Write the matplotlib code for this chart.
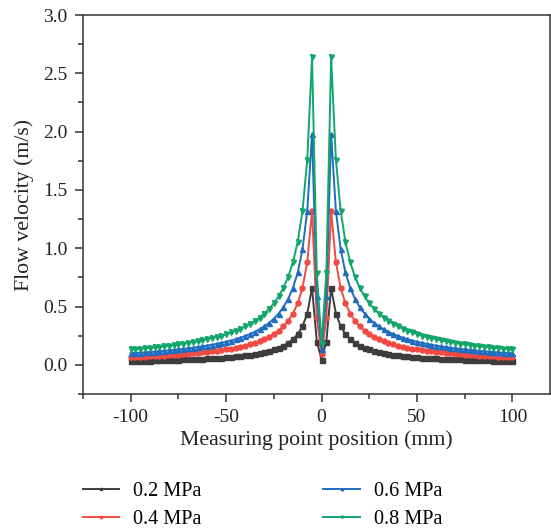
import matplotlib
matplotlib.use("Agg")
import matplotlib.pyplot as plt
from matplotlib.ticker import MultipleLocator

# Measuring point positions (mm)
position = [-100, -97.5, -95, -92.5, -90, -87.5, -85, -82.5, -80, -77.5, -75, -72.5, -70, -67.5,
            -65, -62.5, -60, -57.5, -55, -52.5, -50, -47.5, -45, -42.5, -40, -37.5, -35, -32.5,
            -30, -27.5, -25, -22.5, -20, -17.5, -15, -12.5, -10, -7.5, -5, -2.5, 0,
            2.5, 5, 7.5, 10, 12.5, 15, 17.5, 20, 22.5, 25, 27.5, 30, 32.5, 35, 37.5, 40,
            42.5, 45, 47.5, 50, 52.5, 55, 57.5, 60, 62.5, 65, 67.5, 70, 72.5, 75, 77.5, 80,
            82.5, 85, 87.5, 90, 92.5, 95, 97.5, 100]

v_02 = [0.033, 0.034, 0.035, 0.036, 0.037, 0.038, 0.039, 0.040, 0.041, 0.043, 0.044, 0.046, 0.047, 0.049,
        0.051, 0.053, 0.055, 0.057, 0.060, 0.063, 0.066, 0.069, 0.073, 0.078, 0.083, 0.088, 0.094, 0.102,
        0.110, 0.120, 0.132, 0.147, 0.165, 0.189, 0.220, 0.264, 0.330, 0.440, 0.660, 0.200, 0.045,
        0.200, 0.660, 0.440, 0.330, 0.264, 0.220, 0.189, 0.165, 0.147, 0.132, 0.120, 0.110, 0.102, 0.094, 0.088, 0.083,
        0.078, 0.073, 0.069, 0.066, 0.063, 0.060, 0.057, 0.055, 0.053, 0.051, 0.049, 0.047, 0.046, 0.044, 0.043, 0.041,
        0.040, 0.039, 0.038, 0.037, 0.036, 0.035, 0.034, 0.033]

v_04 = [0.066, 0.068, 0.069, 0.071, 0.073, 0.075, 0.078, 0.080, 0.083, 0.085, 0.088, 0.091, 0.094, 0.098,
        0.102, 0.106, 0.110, 0.115, 0.120, 0.126, 0.132, 0.139, 0.147, 0.155, 0.165, 0.176, 0.189, 0.203,
        0.220, 0.240, 0.264, 0.293, 0.330, 0.377, 0.440, 0.528, 0.660, 0.880, 1.320, 0.400, 0.090,
        0.400, 1.320, 0.880, 0.660, 0.528, 0.440, 0.377, 0.330, 0.293, 0.264, 0.240, 0.220, 0.203, 0.189, 0.176, 0.165,
        0.155, 0.147, 0.139, 0.132, 0.126, 0.120, 0.115, 0.110, 0.106, 0.102, 0.098, 0.094, 0.091, 0.088, 0.085, 0.083,
        0.080, 0.078, 0.075, 0.073, 0.071, 0.069, 0.068, 0.066]

v_06 = [0.099, 0.102, 0.104, 0.107, 0.110, 0.113, 0.116, 0.120, 0.124, 0.128, 0.132, 0.137, 0.141, 0.147,
        0.152, 0.158, 0.165, 0.172, 0.180, 0.189, 0.198, 0.208, 0.220, 0.233, 0.248, 0.264, 0.283, 0.305,
        0.330, 0.360, 0.396, 0.440, 0.495, 0.566, 0.660, 0.792, 0.990, 1.320, 1.980, 0.590, 0.135,
        0.590, 1.980, 1.320, 0.990, 0.792, 0.660, 0.566, 0.495, 0.440, 0.396, 0.360, 0.330, 0.305, 0.283, 0.264, 0.248,
        0.233, 0.220, 0.208, 0.198, 0.189, 0.180, 0.172, 0.165, 0.158, 0.152, 0.147, 0.141, 0.137, 0.132, 0.128, 0.124,
        0.120, 0.116, 0.113, 0.110, 0.107, 0.104, 0.102, 0.099]

v_08 = [0.132, 0.135, 0.139, 0.143, 0.147, 0.151, 0.155, 0.160, 0.165, 0.170, 0.176, 0.182, 0.189, 0.196,
        0.203, 0.211, 0.220, 0.230, 0.240, 0.251, 0.264, 0.278, 0.293, 0.311, 0.330, 0.352, 0.377, 0.406,
        0.440, 0.480, 0.528, 0.587, 0.660, 0.754, 0.880, 1.056, 1.320, 1.760, 2.640, 0.790, 0.180,
        0.790, 2.640, 1.760, 1.320, 1.056, 0.880, 0.754, 0.660, 0.587, 0.528, 0.480, 0.440, 0.406, 0.377, 0.352, 0.330,
        0.311, 0.293, 0.278, 0.264, 0.251, 0.240, 0.230, 0.220, 0.211, 0.203, 0.196, 0.189, 0.182, 0.176, 0.170, 0.165,
        0.160, 0.155, 0.151, 0.147, 0.143, 0.139, 0.135, 0.132]

labels = ["0.2 MPa", "0.4 MPa", "0.6 MPa", "0.8 MPa"]
series = [v_02, v_04, v_06, v_08]
colors = ["#3d3d3d", "#f04a42", "#1f6cc0", "#12a66a"]
markers = ["s", "o", "^", "v"]

plt.rcParams['font.family'] = ['Liberation Serif', 'DejaVu Serif']

fig = plt.figure(figsize=(5.51, 5.29), dpi=100)
ax = fig.add_axes([0.1506, 0.2552, 0.847, 0.7164])

for vals, lab, c, m in zip(series, labels, colors, markers):
    ax.plot(position, vals, color=c, marker=m, markersize=3.6, linewidth=1.4, label=lab)

ax.set_xlim(-125, 119.5)
ax.set_ylim(-0.25, 3.0)
ax.xaxis.set_minor_locator(MultipleLocator(25))
ax.yaxis.set_minor_locator(MultipleLocator(0.25))
ax.set_xticks([-100, -50, 0, 50, 100])
ax.set_xticklabels(["-100", "-50", "0", "50", "100"])
ax.set_yticks([0.0, 0.5, 1.0, 1.5, 2.0, 2.5, 3.0])
ax.set_yticklabels(["0.0", "0.5", "1.0", "1.5", "2.0", "2.5", "3.0"])

for s in ax.spines.values():
    s.set_color("#333333")
    s.set_linewidth(1.1)
ax.tick_params(which='both', direction='out', top=False, right=False, colors="#333333",
               labelcolor="#222222", width=1.1)
ax.tick_params(which='major', length=6, labelsize=14)
ax.tick_params(axis='x', which='major', pad=5)
ax.tick_params(axis='y', which='major', pad=5)
ax.tick_params(which='minor', length=3.5)

ax.set_xlabel("Measuring point position (mm)", fontsize=15.7, color="#222222", labelpad=3)
ax.set_ylabel("Flow velocity (m/s)", fontsize=15.7, color="#222222", labelpad=7)

handles, labs = ax.get_legend_handles_labels()
fig.legend(handles, labs, loc='upper left', bbox_to_anchor=(0.150, 0.089), ncol=2,
           frameon=False, fontsize=14.6, handlelength=1.8, columnspacing=6.0,
           labelspacing=0.42, markerscale=0.5, handletextpad=0.7,
           borderaxespad=0, borderpad=0)

fig.savefig("out.png", dpi=100)
